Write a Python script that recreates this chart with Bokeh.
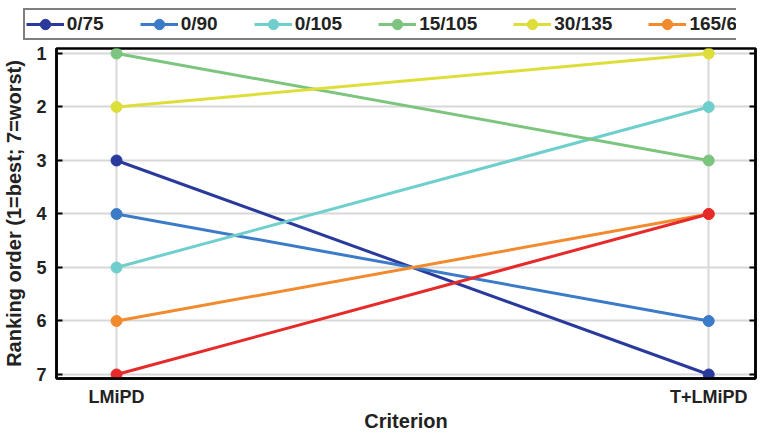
from bokeh.plotting import figure
from bokeh.layouts import column
from bokeh.models import Range1d, FixedTicker, LinearAxis, Legend, LegendItem
from bokeh.embed import file_html
from bokeh.resources import INLINE

criteria = ["LMiPD", "T+LMiPD"]
crit_x = [1, 2]
series = ["0/75", "0/90", "0/105", "15/105", "30/135", "165/60", "165/75"]
colors = ["#2a3a9c", "#3c7bc8", "#6fcfcc", "#7cc57e", "#dede3a", "#f28a2e", "#e62a2a"]
rank_lmipd = [3, 4, 5, 1, 2, 6, 7]
rank_tlmipd = [7, 6, 2, 3, 1, 4, 4]
y_ticks = [1, 2, 3, 4, 5, 6, 7]

FONT = "Liberation Sans"
TXT = "#222222"

# ---------- main chart ----------
p = figure(frame_width=699, frame_height=330, output_backend="svg", toolbar_location=None,
           x_range=Range1d(0.8986, 2.079), y_range=Range1d(7.075, 0.9065),
           min_border_left=50, min_border_right=2, min_border_top=6, min_border_bottom=56,
           x_axis_label="Criterion", y_axis_label="Ranking order (1=best; 7=worst)")

p.outline_line_color = "black"
p.outline_line_width = 2.5
p.outline_line_alpha = 1

for name, col, a, b in zip(series, colors, rank_lmipd, rank_tlmipd):
    p.line(crit_x, [a, b], line_color=col, line_width=3)
    p.scatter(crit_x, [a, b], size=11, fill_color=col, line_color=col)

xa = p.xaxis[0]
xa.ticker = FixedTicker(ticks=crit_x)
xa.major_label_overrides = {1: criteria[0], 2: criteria[1]}
xa.major_tick_in = 0
xa.major_tick_out = 0
xa.minor_tick_in = 0
xa.minor_tick_out = 0
xa.major_label_standoff = 8
xa.axis_label_standoff = 0
xa.axis_line_color = "black"
xa.axis_line_width = 2.5

ya = p.yaxis[0]
ya.ticker = FixedTicker(ticks=y_ticks)
ya.major_tick_in = 6
ya.major_tick_out = 0
ya.minor_tick_in = 0
ya.minor_tick_out = 0
ya.major_tick_line_width = 2
ya.major_label_standoff = 10
ya.axis_label_standoff = 8
ya.axis_line_color = "black"
ya.axis_line_width = 2.5

for ax in (xa, ya):
    ax.major_label_text_font = FONT
    ax.major_label_text_font_style = "bold"
    ax.major_label_text_font_size = "18px"
    ax.major_label_text_color = TXT
    ax.axis_label_text_font = FONT
    ax.axis_label_text_font_style = "bold"
    ax.axis_label_text_font_size = "20px"
    ax.axis_label_text_color = TXT

ra = LinearAxis(ticker=FixedTicker(ticks=y_ticks))
ra.major_tick_in = 6
ra.major_tick_out = 0
ra.minor_tick_in = 0
ra.minor_tick_out = 0
ra.major_tick_line_width = 2
ra.major_label_overrides = {t: "" for t in y_ticks}
ra.major_label_standoff = 0
ra.axis_line_color = "black"
ra.axis_line_width = 2.5
p.add_layout(ra, "right")

p.xgrid.ticker = FixedTicker(ticks=crit_x)
p.ygrid.ticker = FixedTicker(ticks=y_ticks)
p.grid.grid_line_color = "#d8d8d8"
p.grid.grid_line_width = 2

# ---------- legend strip: same series, viewed off-range so only the legend shows ----------
pl = figure(frame_width=707, frame_height=42, output_backend="svg", toolbar_location=None,
            x_range=Range1d(10, 11), y_range=Range1d(10, 11),
            x_axis_location=None, y_axis_location=None,
            min_border_left=44, min_border_right=0, min_border_top=0, min_border_bottom=0)
pl.grid.visible = False
pl.outline_line_color = None

items = []
for name, col, a, b in zip(series, colors, rank_lmipd, rank_tlmipd):
    lr = pl.line(crit_x, [a, b], line_color=col, line_width=3)
    sr = pl.scatter(crit_x, [a, b], size=11, fill_color=col, line_color=col)
    items.append(LegendItem(label=name, renderers=[lr, sr]))

legend = Legend(items=items, orientation="horizontal", location="top_left")
legend.label_text_font = FONT
legend.label_text_font_style = "bold"
legend.label_text_font_size = "19px"
legend.label_text_color = TXT
legend.glyph_width = 38
legend.glyph_height = 26
legend.label_standoff = 3
legend.spacing = 36
legend.padding = 1
legend.margin = 8
legend.border_line_color = "black"
legend.border_line_width = 2.5
legend.background_fill_color = "white"
legend.background_fill_alpha = 1
pl.add_layout(legend, "center")

layout = column(pl, p, spacing=0)
open("out.html", "w").write(file_html(layout, INLINE))
